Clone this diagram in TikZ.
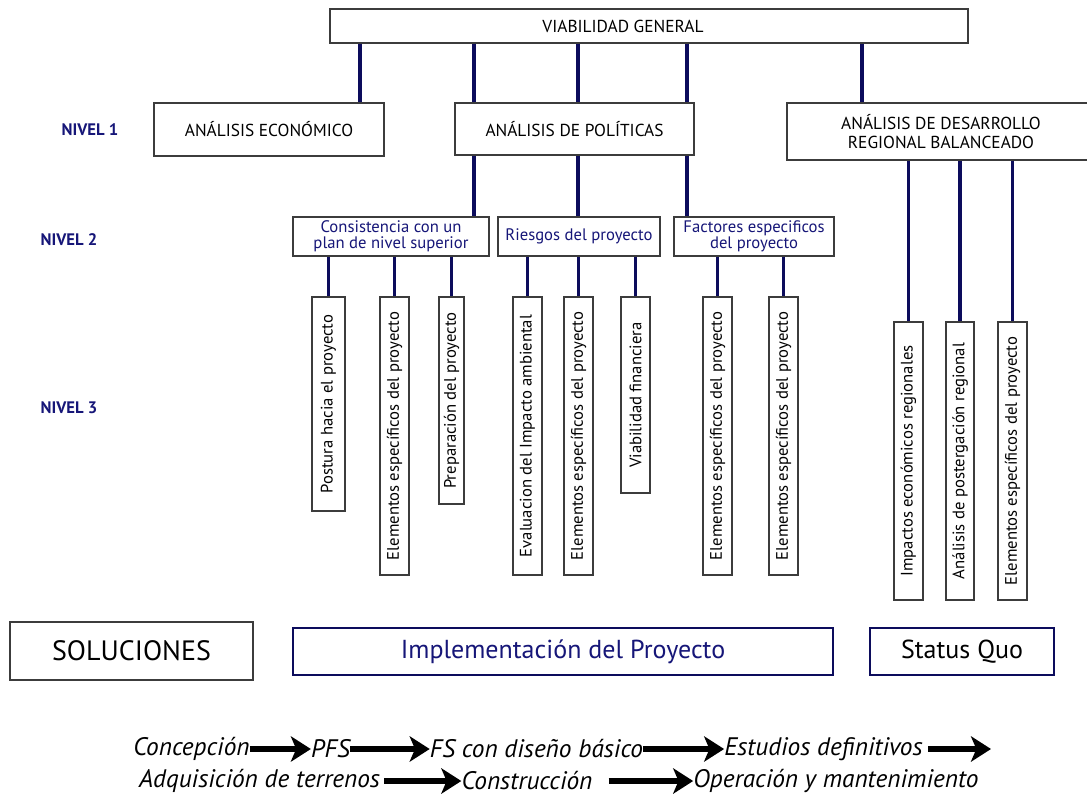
\documentclass[tikz,border=0pt]{standalone}
\usepackage{fontspec}
\setmainfont{PT Sans}
\usetikzlibrary{arrows.meta}

\definecolor{navyline}{RGB}{12,12,92}
\definecolor{navytext}{RGB}{22,22,120}
\definecolor{boxgray}{RGB}{60,60,60}

\tikzset{
  sz/.style 2 args={minimum width=#1*0.75pt,minimum height=#2*0.75pt},
  box/.style={draw=boxgray,line width=0.8pt,fill=white,inner sep=0pt,align=center},
  topbox/.style={box,font=\fontsize{13}{14}\selectfont},
  midbox/.style={box,text=navytext,font=\fontsize{12.5}{12}\selectfont},
  lowbox/.style={box,rotate=90,font=\fontsize{12.5}{13}\selectfont},
  link/.style={navyline,line width=2.4pt},
  level/.style={text=navytext,font=\bfseries\fontsize{12.5}{13}\selectfont},
  flow/.style={inner sep=0pt,font=\itshape\fontsize{19}{20}\selectfont},
  flowarrow/.style={line width=4.2pt,-{Stealth[length=15pt,width=19pt,inset=4pt]}}
}

\begin{document}
\begin{tikzpicture}[x=0.75pt,y=0.75pt,yscale=-1]
\clip (0,0) rectangle (1087,802);

%Shape: Rectangle top
\node[topbox,sz={638}{34}] (top) at (649,26) {VIABILIDAD GENERAL\hspace*{39pt}};

% Level 1
\node[topbox,sz={230}{53}] (eco) at (269,129.5) {ANÁLISIS ECONÓMICO};
\node[topbox,sz={239}{52}] (pol) at (574.5,129) {ANÁLISIS DE POLÍTICAS};
\node[topbox,sz={308}{57}] (reg) at (941,131.5) {ANÁLISIS DE DESARROLLO\\REGIONAL BALANCEADO};

% Level 2
\node[midbox,sz={196}{39}] (cons) at (391,236.5) {Consistencia con un\\plan de nivel superior};
\node[midbox,sz={162}{39}] (ries) at (579,236.5) {Riesgos del proyecto};
\node[midbox,sz={160}{39}] (fact) at (754,236.5) {Factores especificos\\del proyecto};

% Level 3
\node[lowbox,sz={214}{33}] (p1) at (328.5,404) {Postura hacia el proyecto};
\node[lowbox,sz={278}{29}] (p2) at (394.5,436) {Elementos específicos del proyecto};
\node[lowbox,sz={207}{25}] (p3) at (451.5,400.5) {Preparación del proyecto};
\node[lowbox,sz={278}{29}] (q1) at (527.5,436) {Evaluacion del Impacto ambiental};
\node[lowbox,sz={278}{29}] (q2) at (578.5,436) {Elementos específicos del proyecto};
\node[lowbox,sz={196}{29}] (q3) at (635.5,395) {Viabilidad financiera};
\node[lowbox,sz={278}{29}] (f1) at (717.5,436) {Elementos específicos del proyecto};
\node[lowbox,sz={278}{29}] (f2) at (783.5,436) {Elementos específicos del proyecto};
\node[lowbox,sz={278}{29}] (r1) at (908.5,461) {Impactos económicos regionales};
\node[lowbox,sz={278}{28}] (r2) at (960,461) {Análisis de postergación regional};
\node[lowbox,sz={278}{29}] (r3) at (1012.5,461) {Elementos específicos del proyecto};

% columns of the top links
\coordinate (k0) at (360,0);
\coordinate (k1) at (474,0);
\coordinate (k2) at (578,0);
\coordinate (k3) at (687,0);
\coordinate (k4) at (862,0);

\draw[link] (top.south -| k0) -- (eco.north -| k0);
\foreach \k in {k1,k2,k3}
  \draw[link] (top.south -| \k) -- (pol.north -| \k);
\draw[link] (top.south -| k4) -- (reg.north -| k4);

\draw[link] (pol.south -| k1) -- (cons.north -| k1);
\draw[link] (pol.south -| k2) -- (ries.north -| k2);
\draw[link] (pol.south -| k3) -- (fact.north -| k3);

\foreach \b in {p1,p2,p3}
  \draw[link] (cons.south -| \b.center) -- (\b.east);
\foreach \b in {q1,q2,q3}
  \draw[link] (ries.south -| \b.center) -- (\b.east);
\foreach \b in {f1,f2}
  \draw[link] (fact.south -| \b.center) -- (\b.east);
\foreach \b in {r1,r2,r3}
  \draw[link] (reg.south -| \b.center) -- (\b.east);

% Text Node
\node[level] (n1) at (90,130) {NIVEL 1};
\node[level] (n2) at (69,240) {NIVEL 2};
\node[level] (n3) at (69,408) {NIVEL 3};

% Solutions
\node[box,sz={243}{58},font=\fontsize{21}{22}\selectfont] (sol) at (131.5,651) {SOLUCIONES};
\node[box,draw=navyline,line width=2.2pt,text=navytext,sz={540}{47},font=\fontsize{19.5}{20}\selectfont] (impl) at (563,651.5) {Implementación del Proyecto};
\node[box,draw=navyline,line width=2.2pt,sz={184}{47},font=\fontsize{19.5}{20}\selectfont] (sq) at (962,651.5) {Status Quo};

% project cycle
\node[flow] (c1) at (191.5,749) {Concepción};
\node[flow] (c2) at (330.5,749) {PFS};
\node[flow] (c3) at (536.5,749) {FS con diseño básico};
\node[flow] (c4) at (823.5,749) {Estudios definitivos};
\coordinate (cend) at (991,749);
\node[flow] (d1) at (259.5,781) {Adquisición de terrenos};
\node[flow] (d2) at (527,781) {Construcción};
\node[flow] (d3) at (836,781) {Operación y mantenimiento};

\draw[flowarrow] (c1) -- (c2);
\draw[flowarrow] (c2) -- (c3);
\draw[flowarrow] (c3) -- (c4);
\draw[flowarrow] ([xshift=4pt]c4.east) -- (cend);
\draw[flowarrow] ([xshift=3pt]d1.east) -- (d2);
\draw[flowarrow] ([xshift=12pt]d2.east) -- (d3);

\end{tikzpicture}
\end{document}
